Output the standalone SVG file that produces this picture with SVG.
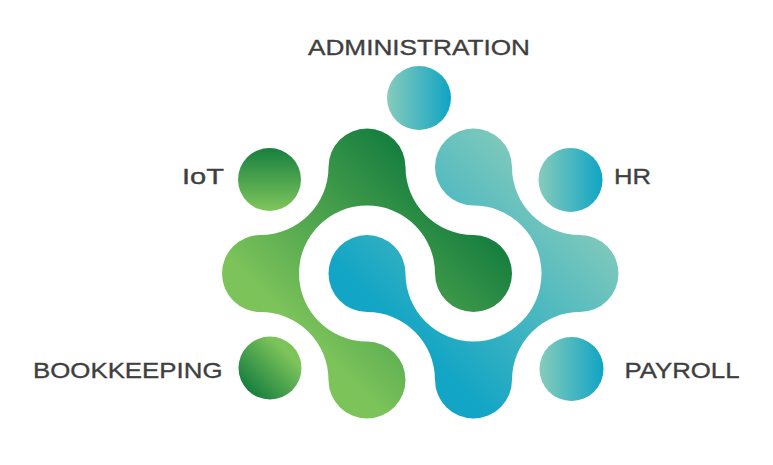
<svg xmlns="http://www.w3.org/2000/svg" width="773" height="465" viewBox="0 0 773 465">
<style>
.lbl{font-family:"Liberation Sans",Arial,sans-serif;font-size:22px;fill:#3f3f3f;stroke:#3f3f3f;stroke-width:.35}
</style>
<defs>
<linearGradient id="gGreen" gradientUnits="userSpaceOnUse" x1="290" y1="320" x2="430" y2="180"><stop offset="0" stop-color="#7CC35A"/><stop offset="1" stop-color="#177F3F"/></linearGradient>
<linearGradient id="gBlue" gradientUnits="userSpaceOnUse" x1="420" y1="350" x2="565" y2="205"><stop offset="0" stop-color="#12A5C5"/><stop offset="1" stop-color="#7CC8BC"/></linearGradient>
<linearGradient id="gTeal" x1="0" y1="0" x2="1" y2="0"><stop offset="0" stop-color="#86CCBA"/><stop offset="1" stop-color="#0FA4C5"/></linearGradient>
<linearGradient id="gIot" x1="0" y1="0" x2="0" y2="1"><stop offset="0" stop-color="#177F3F"/><stop offset="1" stop-color="#80C65C"/></linearGradient>
<linearGradient id="gBook" x1="0.15" y1="0.85" x2="0.85" y2="0.15"><stop offset="0" stop-color="#177F3F"/><stop offset="0.85" stop-color="#7CC35A"/></linearGradient>
</defs>
<g id="green-shape"><path fill="url(#gGreen)" d="M367 341.500A68 68 0 1 1 435 273.500A38.500 38.500 0 0 0 473.500 312A38.500 38.500 0 0 0 473.500 235A68 68 0 0 1 405.500 167A38.500 38.500 0 0 0 328.500 167A68 68 0 0 1 260.500 235A38.500 38.500 0 0 0 260.500 312A68 68 0 0 1 328.500 380A38.500 38.500 0 0 0 405.500 380A38.500 38.500 0 0 0 367 341.500Z"/></g>
<g id="blue-shape"><path fill="url(#gBlue)" d="M328.500 273.500A38.500 38.500 0 0 1 405.500 273.500A68 68 0 1 0 473.500 205.500A38.500 38.500 0 0 1 435 167A38.500 38.500 0 0 1 512 167A68 68 0 0 0 580 235A38.500 38.500 0 0 1 580 312A68 68 0 0 0 512 380A38.500 38.500 0 0 1 435 380A68 68 0 0 0 367 312A38.500 38.500 0 0 1 328.500 273.500Z"/></g>
<g id="administration"><circle cx="419" cy="98" r="32" fill="url(#gTeal)"/><text class="lbl" x="308" y="54.500" textLength="222" lengthAdjust="spacingAndGlyphs">ADMINISTRATION</text></g>
<g id="iot"><circle cx="269.500" cy="179.500" r="31.500" fill="url(#gIot)"/><text class="lbl" x="182" y="183.500" textLength="42" lengthAdjust="spacingAndGlyphs">IoT</text></g>
<g id="hr"><circle cx="570.500" cy="180" r="32" fill="url(#gTeal)"/><text class="lbl" x="614" y="183.500" textLength="37" lengthAdjust="spacingAndGlyphs">HR</text></g>
<g id="bookkeeping"><circle cx="270" cy="368" r="31.500" fill="url(#gBook)"/><text class="lbl" x="33" y="378.300" textLength="189.500" lengthAdjust="spacingAndGlyphs">BOOKKEEPING</text></g>
<g id="payroll"><circle cx="571.500" cy="369" r="32" fill="url(#gTeal)"/><text class="lbl" x="624.500" y="378" textLength="115" lengthAdjust="spacingAndGlyphs">PAYROLL</text></g>
</svg>
